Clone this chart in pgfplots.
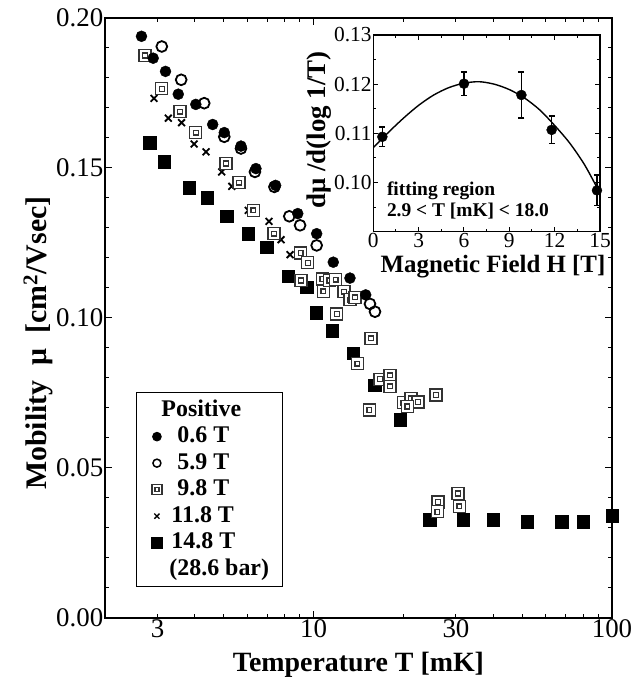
\documentclass[border=0pt]{standalone}
\usepackage{fontspec}
\setmainfont{Liberation Serif}
\usepackage{pgfplots}
\pgfplotsset{compat=1.18}

\pgfdeclareplotmark{dsq}{%
  \pgfpathrectangle{\pgfpoint{-6bp}{-6bp}}{\pgfpoint{12bp}{12bp}}%
  \pgfusepathqfillstroke
  \pgfpathrectangle{\pgfpoint{-2.4bp}{-2.4bp}}{\pgfpoint{4.8bp}{4.8bp}}%
  \pgfusepathqstroke}
\pgfdeclareplotmark{dsqs}{%
  \pgfpathrectangle{\pgfpoint{-5bp}{-5bp}}{\pgfpoint{10bp}{10bp}}%
  \pgfusepathqfillstroke
  \pgfpathrectangle{\pgfpoint{-2bp}{-2bp}}{\pgfpoint{4bp}{4bp}}%
  \pgfusepathqstroke}

\pgfplotstableread{
x y
2.65 0.1939
2.90 0.1866
3.19 0.1822
3.52 0.1746
4.03 0.1712
4.59 0.1645
5.02 0.1618
5.71 0.1573
6.41 0.1498
7.46 0.1442
8.85 0.1348
10.24 0.1281
11.64 0.1186
13.24 0.1133
14.95 0.1077
}\dataA
\pgfplotstableread{
x y
3.10 0.1905
3.60 0.1794
4.30 0.1716
5.02 0.1604
5.71 0.1565
6.36 0.1487
7.39 0.1437
8.29 0.1339
9.01 0.1309
10.24 0.1242
15.45 0.1047
16.06 0.1021
}\dataB
\pgfplotstableread{
x y
2.72 0.1875
3.10 0.1764
3.57 0.1688
4.03 0.1618
5.09 0.1515
5.63 0.1451
6.28 0.1359
7.37 0.1281
9.05 0.1217
9.56 0.1184
9.07 0.1125
10.70 0.1130
10.78 0.1089
11.29 0.1125
11.86 0.1128
12.65 0.1088
13.24 0.1061
13.77 0.1069
11.96 0.1013
15.57 0.0932
14.01 0.0848
16.70 0.0796
18.04 0.0809
18.04 0.0772
15.37 0.0693
19.98 0.0718
21.20 0.0732
22.40 0.0720
20.60 0.0705
25.70 0.0743
26.10 0.0387
26.00 0.0354
30.50 0.0415
30.80 0.0372
}\dataC
\pgfplotstableread{
x y
2.92 0.1732
3.26 0.1666
3.61 0.1651
3.98 0.1580
4.36 0.1554
4.92 0.1487
5.32 0.1439
6.04 0.1359
7.09 0.1322
7.78 0.1261
8.34 0.1211
}\dataD
\pgfplotstableread{
x y
2.83 0.1584
3.16 0.1521
3.83 0.1434
4.40 0.1400
5.11 0.1339
6.04 0.1281
6.97 0.1236
8.23 0.1139
9.48 0.1103
10.19 0.1017
11.55 0.0958
13.59 0.0883
16.06 0.0776
19.49 0.0660
24.55 0.0328
31.75 0.0328
40.00 0.0328
52.00 0.0320
67.80 0.0320
80.10 0.0320
100.0 0.0341
}\dataE

\begin{document}
\begin{tikzpicture}
\path[use as bounding box] (0,0) rectangle (632bp,694bp);
\begin{axis}[
  at={(105bp,76bp)}, anchor=south west,
  scale only axis, width=507bp, height=600bp,
  xmode=log, xmin=2, xmax=100, ymin=0, ymax=0.2,
  axis line style={line width=1.2bp},
  every tick/.style={line width=1bp, black},
  tick align=inside,
  xtick={10,100}, xticklabels={10,100},
  extra x ticks={3,30}, extra x tick labels={3,30},
  extra x tick style={major tick length=4bp},
  minor xtick={4,5,6,7,8,9,20,40,50,60,70,80,90},
  ytick={0,0.05,0.1,0.15,0.2}, minor y tick num=4,
  major tick length=7bp, minor tick length=4bp,
  tick label style={font=\fontsize{27}{27}\selectfont, inner sep=1.5bp},
  /pgf/number format/assume math mode=true,
  y tick label style={/pgf/number format/.cd, fixed, fixed zerofill, precision=2},
  xlabel={Temperature T [mK]},
  ylabel={Mobility\ \ μ\ \ [cm\textsuperscript{2}/Vsec]},
  xlabel style={font=\fontsize{28}{30}\selectfont\bfseries, at={(axis description cs:0.5,-0.078)}, anchor=center},
  ylabel style={font=\fontsize{30}{32}\selectfont\bfseries, at={(axis description cs:-0.132,0.458)}, anchor=center},
  legend cell align=left,
  legend style={at={(axis description cs:0.061,0.376)}, anchor=north west,
    draw=black, line width=1bp, font=\fontsize{24}{26}\selectfont\bfseries,
    inner xsep=12bp, inner ysep=4bp, row sep=0bp,
    nodes={inner sep=1bp, text height=18.5bp, text depth=6bp}},
]
\addlegendimage{empty legend}
\addlegendentry{\hspace*{-2bp}Positive}
\addlegendimage{only marks, mark=*, mark size=4.3bp, black}
\addlegendentry{\hspace*{14bp}0.6 T}
\addlegendimage{only marks, mark=o, mark size=4bp, black, line width=1.5bp}
\addlegendentry{\hspace*{14bp}5.9 T}
\addlegendimage{only marks, mark=dsqs, black!80, mark options={fill=white, line width=1.2bp}}
\addlegendentry{\hspace*{14bp}9.8 T}
\addlegendimage{only marks, mark=x, mark size=3.6bp, black, line width=1.3bp}
\addlegendentry{\hspace*{8bp}11.8 T}
\addlegendimage{only marks, mark=square*, mark size=5.5bp, black}
\addlegendentry{\hspace*{8bp}14.8 T}
\addlegendimage{empty legend}
\addlegendentry{\hspace*{6bp}(28.6 bar)}

\addplot[forget plot, only marks, mark=square*, mark size=6.3bp, black] table[x=x,y=y] {\dataE};
\addplot[forget plot, only marks, mark=x, mark size=4.8bp, black, line width=1.8bp] table[x=x,y=y] {\dataD};
\addplot[forget plot, only marks, mark=dsq, black!80, mark options={fill=white, line width=1.3bp}] table[x=x,y=y] {\dataC};
\addplot[forget plot, only marks, mark=o, mark size=5.4bp, black, line width=1.8bp] table[x=x,y=y] {\dataB};
\addplot[forget plot, only marks, mark=*, mark size=5.5bp, black] table[x=x,y=y] {\dataA};
\end{axis}

\begin{axis}[
  at={(373.3bp,462.3bp)}, anchor=south west,
  scale only axis, width=226.7bp, height=196.7bp,
  xmin=0, xmax=15, ymin=0.09, ymax=0.13,
  axis background/.style={fill=white},
  axis line style={line width=1.2bp},
  every tick/.style={line width=1bp, black},
  tick align=inside,
  xtick={0,3,6,9,12,15}, minor x tick num=1,
  ytick={0.10,0.11,0.12,0.13}, minor ytick={0.095,0.105,0.115,0.125},
  major tick length=5bp, minor tick length=3bp,
  tick label style={font=\fontsize{21.5}{21.5}\selectfont, inner sep=1.5bp},
  /pgf/number format/assume math mode=true,
  y tick label style={/pgf/number format/.cd, fixed, fixed zerofill, precision=2},
  xlabel={Magnetic Field H [T]},
  ylabel={dμ /d(log 1/T)},
  xlabel style={font=\fontsize{25}{27}\selectfont\bfseries, at={(axis description cs:0.528,-0.178)}, anchor=center},
  ylabel style={font=\fontsize{27}{29}\selectfont\bfseries, at={(axis description cs:-0.24,0.517)}, anchor=center},
]
\addplot[smooth, black, line width=1.4bp] coordinates {
(0,0.1071) (1,0.1102) (2,0.1131) (3,0.1157) (4,0.1178) (5,0.1193) (6,0.1202)
(7,0.1205) (8,0.1200) (9,0.1189) (10,0.1172) (11,0.1148) (12,0.1116)
(13,0.1080) (14,0.1035) (15,0.0978)};
\addplot[only marks, mark=*, mark size=5bp, black,
  error bars/.cd, y dir=both, y explicit,
  error bar style={line width=1.4bp, black},
  error mark options={rotate=90, mark size=3bp, line width=1.4bp, black}]
  coordinates {
  (0.6,0.1093) +- (0,0.0020)
  (6.0,0.1201) +- (0,0.0024)
  (9.8,0.1178) +- (0,0.0047)
  (11.8,0.1107) +- (0,0.0028)
  (14.8,0.0984) +- (0,0.0031)};
\node[anchor=west, align=left, font=\fontsize{19.5}{21}\selectfont\bfseries]
  at (axis description cs:0.045,0.16) {fitting region\\2.9 < T [mK] < 18.0};
\end{axis}
\end{tikzpicture}
\end{document}
